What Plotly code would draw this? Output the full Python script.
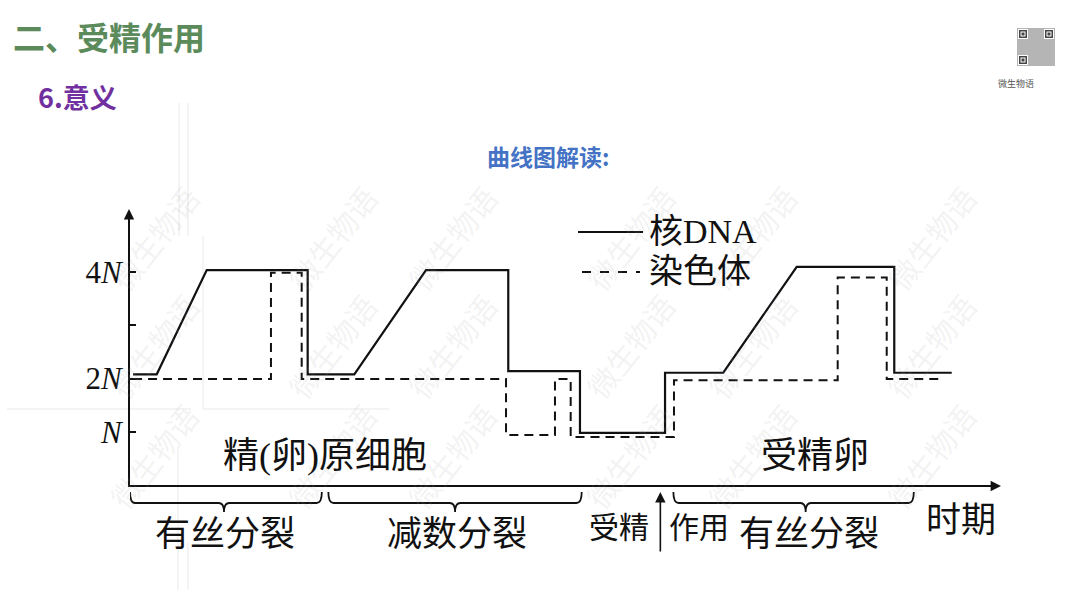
import plotly.graph_objects as go

W, H = 1080, 608

# ---------------- data ----------------
# time axis in arbitrary units (0 .. 100 across the horizontal axis)
dna_t = [0.35, 3.08, 8.84, 20.47, 20.47, 25.84, 34.10, 43.58, 43.58, 51.84,
         51.84, 61.64, 61.64, 68.35, 76.81, 88.05, 88.05, 94.67]
dna_v = [2.08, 2.08, 4.04, 4.04, 2.08, 2.08, 4.04, 4.04, 2.14, 2.14,
         0.98, 0.98, 2.11, 2.11, 4.10, 4.10, 2.11, 2.11]

chrom_t = [0.35, 16.24, 16.24, 19.78, 19.78, 43.32, 43.32, 48.96, 48.96, 50.77,
           50.77, 62.67, 62.67, 81.53, 81.53, 87.18, 87.18, 93.12]
chrom_v = [1.99, 1.99, 3.99, 3.99, 1.99, 1.99, 0.94, 0.94, 1.99, 1.99,
           0.90, 0.90, 1.97, 1.97, 3.90, 3.90, 1.99, 1.99]

series_names = ["核DNA", "染色体"]

y_tickvals = [1, 2, 3, 4]
y_ticktext = ["<i>N</i>", "2<i>N</i>", "", "4<i>N</i>"]

# phases (braces under the time axis): start, end, tip, label
phase_start = [0.0, 22.85, 62.6]
phase_end = [22.1, 52.04, 90.3]
phase_tip = [10.83, 37.45, 77.84]
phase_label = ["有丝分裂", "减数分裂", "有丝分裂"]
phase_label_t = [10.9, 37.7, 78.2]

cell_labels = ["精(卵)原细胞", "受精卵"]
cell_label_t = [22.5, 78.9]

fertilization_t = 61.1

# ---------------- helpers for page positions ----------------
def px(x):
    return x / W


def py(y):
    return 1 - y / H


SERIF_CJK = "Liberation Serif, Noto Sans CJK SC, serif"
CJK_BOLD = "Noto Sans CJK SC, sans-serif"

fig = go.Figure()

fig.add_trace(go.Scatter(x=dna_t, y=dna_v, mode="lines", name=series_names[0],
                         line=dict(color="#111111", width=2.2), showlegend=False))
fig.add_trace(go.Scatter(x=chrom_t, y=chrom_v, mode="lines", name=series_names[1],
                         line=dict(color="#111111", width=2.0, dash="9px,6px"),
                         showlegend=False))

fig.update_layout(
    width=W, height=H,
    margin=dict(l=0, r=0, t=0, b=0),
    paper_bgcolor="white", plot_bgcolor="rgba(0,0,0,0)",
    showlegend=False,
    xaxis=dict(domain=[px(130), px(998)], range=[0, 100], showgrid=False,
               zeroline=False, showticklabels=False, ticks="",
               showline=True, linecolor="#111111", linewidth=2, automargin=False),
    yaxis=dict(domain=[py(485), py(211)], range=[0, 5.15], showgrid=False,
               zeroline=False, tickvals=y_tickvals, ticktext=y_ticktext,
               ticks="inside", ticklen=6, tickwidth=2, tickcolor="#111111",
               tickfont=dict(family="Liberation Serif, serif", size=31, color="#111111"),
               showline=True, linecolor="#111111", linewidth=2, automargin=False),
)

shapes = []
annotations = []

# faint slide artefact lines
faint = dict(color="#e9e9e9", width=1)
for (x0, y0, x1, y1) in [(179, 103, 179, 236), (188, 103, 188, 236), (203, 236, 203, 409),
                         (7, 409, 191, 409), (203, 409, 389, 409),
                         (178, 450, 178, 590), (188, 543, 188, 590)]:
    shapes.append(dict(type="line", xref="paper", yref="paper", x0=px(x0), y0=py(y0),
                       x1=px(x1), y1=py(y1), line=faint, layer="below"))

# watermarks
wm_cols = [97, 275, 452, 630, 809, 988]
wm_rows = [174, 346, 520]
for yy in wm_rows:
    for xx in wm_cols:
        annotations.append(dict(text="微生物语", x=px(xx), y=py(yy), xref="paper", yref="paper",
                                showarrow=False, textangle=-52,
                                font=dict(family=CJK_BOLD, size=30, color="rgba(160,160,160,0.14)")))

# titles
annotations.append(dict(text="<b>二、受精作用</b>", x=px(11), y=py(36), xref="paper", yref="paper",
                        xanchor="left", yanchor="middle", showarrow=False,
                        font=dict(family=CJK_BOLD, size=32, color="#5b8a5b")))
annotations.append(dict(text="<b>6.意义</b>", x=px(36), y=py(96), xref="paper", yref="paper",
                        xanchor="left", yanchor="middle", showarrow=False,
                        font=dict(family=CJK_BOLD, size=27, color="#7030a0")))
annotations.append(dict(text="<b>曲线图解读:</b>", x=px(548), y=py(156), xref="paper", yref="paper",
                        xanchor="center", yanchor="middle", showarrow=False,
                        font=dict(family=CJK_BOLD, size=23, color="#4472c4")))

# QR code mark
shapes.append(dict(type="rect", xref="paper", yref="paper", x0=px(1017), y0=py(66), x1=px(1055), y1=py(28),
                   fillcolor="rgba(120,120,120,0.55)", line=dict(width=0)))
for (qx, qy) in [(1018, 29), (1044, 29), (1018, 55)]:
    shapes.append(dict(type="rect", xref="paper", yref="paper", x0=px(qx), y0=py(qy + 10),
                       x1=px(qx + 10), y1=py(qy), fillcolor="white", line=dict(width=0)))
    shapes.append(dict(type="rect", xref="paper", yref="paper", x0=px(qx + 1), y0=py(qy + 9),
                       x1=px(qx + 9), y1=py(qy + 1), fillcolor="#444444", line=dict(width=0)))
    shapes.append(dict(type="rect", xref="paper", yref="paper", x0=px(qx + 2.5), y0=py(qy + 7.5),
                       x1=px(qx + 7.5), y1=py(qy + 2.5), fillcolor="white", line=dict(width=0)))
    shapes.append(dict(type="rect", xref="paper", yref="paper", x0=px(qx + 3.5), y0=py(qy + 6.5),
                       x1=px(qx + 6.5), y1=py(qy + 3.5), fillcolor="#444444", line=dict(width=0)))
annotations.append(dict(text="微生物语", x=px(1036), y=py(75), xref="paper", yref="paper",
                        showarrow=False, font=dict(family=CJK_BOLD, size=9, color="#555555")))

# axis arrows
annotations.append(dict(text="", x=px(129), y=py(209), xref="paper", yref="paper",
                        ax=0, ay=18, showarrow=True, arrowhead=2, arrowsize=1.3,
                        arrowwidth=1.6, arrowcolor="#111111", standoff=0))
annotations.append(dict(text="", x=px(1001), y=py(486), xref="paper", yref="paper",
                        ax=-18, ay=0, showarrow=True, arrowhead=2, arrowsize=1.3,
                        arrowwidth=1.6, arrowcolor="#111111", standoff=0))

# legend drawn in the chart
shapes.append(dict(type="line", xref="paper", yref="paper", x0=px(578), y0=py(232), x1=px(643), y1=py(232),
                   line=dict(color="#111111", width=2)))
shapes.append(dict(type="line", xref="paper", yref="paper", x0=px(582), y0=py(272), x1=px(640), y1=py(272),
                   line=dict(color="#111111", width=2, dash="9px,9px")))
annotations.append(dict(text=series_names[0], x=px(647), y=py(232), xref="paper", yref="paper",
                        xanchor="left", yanchor="middle", showarrow=False,
                        font=dict(family=SERIF_CJK, size=34, color="#111111")))
annotations.append(dict(text=series_names[1], x=px(647), y=py(271), xref="paper", yref="paper",
                        xanchor="left", yanchor="middle", showarrow=False,
                        font=dict(family=SERIF_CJK, size=34, color="#111111")))

# cell labels inside the plot
for lab, t, size in zip(cell_labels, cell_label_t, [36, 36]):
    annotations.append(dict(text=lab, x=t, y=py(456), xref="x", yref="paper",
                            xanchor="center", yanchor="middle", showarrow=False,
                            font=dict(family=SERIF_CJK, size=size, color="#111111")))

# braces and phase labels
ytop, ymid, ytip = py(492), py(503), py(512)
for x0, x1, xc, lab, lt in zip(phase_start, phase_end, phase_tip, phase_label, phase_label_t):
    d = 0.6
    path = (f"M {x0},{ytop} Q {x0},{ymid} {x0 + d},{ymid} L {xc - d},{ymid} "
            f"Q {xc},{ymid} {xc},{ytip} Q {xc},{ymid} {xc + d},{ymid} "
            f"L {x1 - d},{ymid} Q {x1},{ymid} {x1},{ytop}")
    shapes.append(dict(type="path", xref="x", yref="paper", path=path,
                       line=dict(color="#111111", width=1.8)))
    annotations.append(dict(text=lab, x=lt, y=py(534), xref="x", yref="paper",
                            xanchor="center", yanchor="middle", showarrow=False,
                            font=dict(family=SERIF_CJK, size=35, color="#111111")))

# fertilization arrow and labels
annotations.append(dict(text="", x=fertilization_t, y=py(492), xref="x", yref="paper",
                        ax=0, ay=61, showarrow=True, arrowhead=2, arrowsize=1.3,
                        arrowwidth=1.6, arrowcolor="#111111", standoff=0))
annotations.append(dict(text="受精", x=px(651), y=py(527), xref="paper", yref="paper",
                        xanchor="right", yanchor="middle", showarrow=False,
                        font=dict(family=SERIF_CJK, size=30, color="#111111")))
annotations.append(dict(text="作用", x=px(667), y=py(527), xref="paper", yref="paper",
                        xanchor="left", yanchor="middle", showarrow=False,
                        font=dict(family=SERIF_CJK, size=30, color="#111111")))
annotations.append(dict(text="时期", x=px(961), y=py(520), xref="paper", yref="paper",
                        xanchor="center", yanchor="middle", showarrow=False,
                        font=dict(family=SERIF_CJK, size=35, color="#111111")))

fig.update_layout(shapes=shapes, annotations=annotations)

fig.write_html("out.html", config={"displayModeBar": False},
               post_script="document.body.style.margin='0';document.body.style.overflow='hidden';")
